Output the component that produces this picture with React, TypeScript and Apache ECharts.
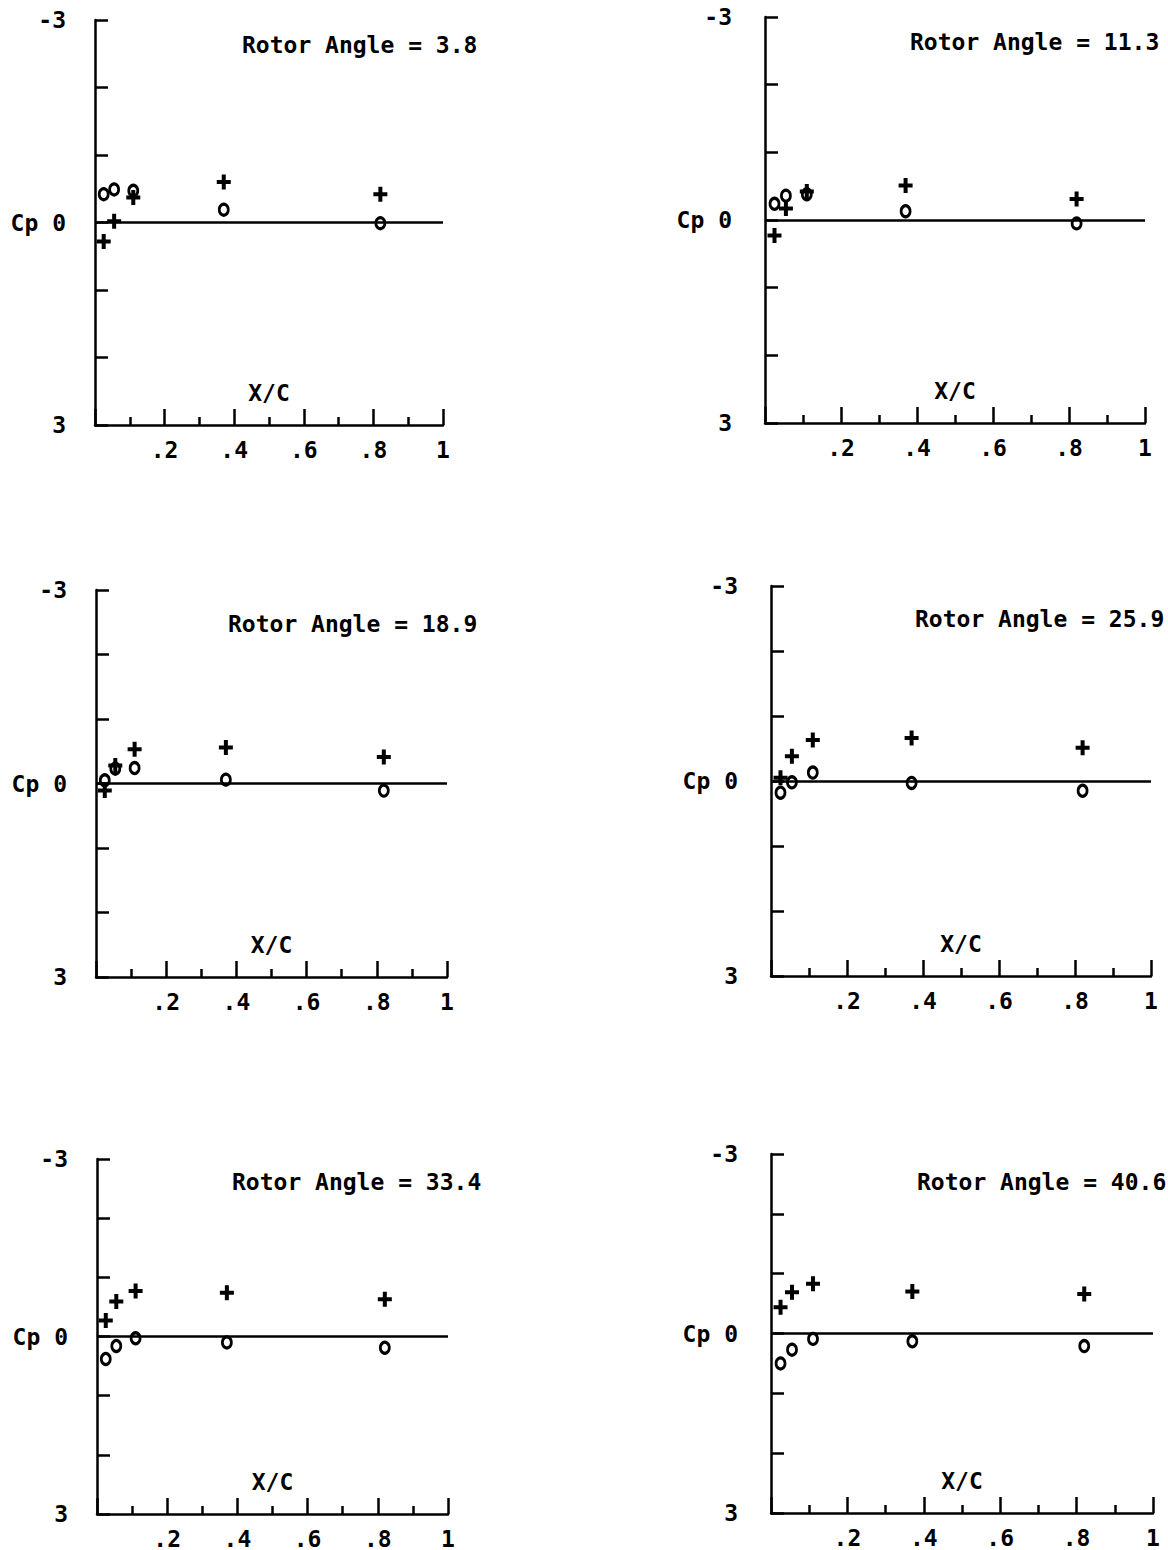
import React, { useEffect, useRef } from "react";
import * as echarts from "echarts";

// ---- data ----
const xPositions = [0.025, 0.055, 0.11, 0.37, 0.82];
const rotorAngles = ["3.8", "11.3", "18.9", "25.9", "33.4", "40.6"];
const plusCp1 = [0.28, -0.02, -0.37, -0.6, -0.42];
const circleCp1 = [-0.42, -0.49, -0.47, -0.19, 0.01];
const plusCp2 = [0.23, -0.17, -0.42, -0.51, -0.31];
const circleCp2 = [-0.24, -0.36, -0.38, -0.13, 0.05];
const plusCp3 = [0.11, -0.28, -0.53, -0.56, -0.41];
const circleCp3 = [-0.05, -0.23, -0.24, -0.06, 0.11];
const plusCp4 = [-0.05, -0.38, -0.63, -0.66, -0.51];
const circleCp4 = [0.18, 0.02, -0.13, 0.03, 0.15];
const plusCp5 = [-0.27, -0.59, -0.77, -0.74, -0.63];
const circleCp5 = [0.38, 0.16, 0.03, 0.1, 0.19];
const plusCp6 = [-0.44, -0.69, -0.83, -0.7, -0.66];
const circleCp6 = [0.5, 0.27, 0.09, 0.13, 0.21];
const plusSets = [plusCp1, plusCp2, plusCp3, plusCp4, plusCp5, plusCp6];
const circleSets = [circleCp1, circleCp2, circleCp3, circleCp4, circleCp5, circleCp6];
const yTickLabels: Record<string, string> = { "-3": "-3", "0": "Cp 0", "3": "3" };
const xTickLabels = ["", ".2", ".4", ".6", ".8", "1"];

// ---- layout ----
const grids = [
  { left: 95, top: 20, width: 348, height: 405 },
  { left: 765, top: 17, width: 380, height: 406 },
  { left: 96, top: 590, width: 351, height: 387 },
  { left: 771, top: 586, width: 380, height: 390 },
  { left: 97, top: 1159, width: 351, height: 359 },
  { left: 771, top: 1154, width: 382, height: 359 },
];
const titlePos = [
  { x: 242, y: 46 },
  { x: 910, y: 43 },
  { x: 228, y: 625 },
  { x: 915, y: 620 },
  { x: 232, y: 1183 },
  { x: 917, y: 1183 },
];
const yLabelMargins = [29, 33, 29, 33, 29, 33];

const FONT = "DejaVu Sans Mono";
const FS = 23;
const plusSymbol = "path://M5,0H9V5.5H14V9.5H9V15H5V9.5H0V5.5H5Z";

const textStyle = { color: "#000", fontFamily: FONT, fontSize: FS, fontWeight: "bold" as const };

export default function App() {
  const ref = useRef<HTMLDivElement>(null);
  useEffect(() => {
    if (!ref.current) return;
    const chart = echarts.init(ref.current, undefined, { renderer: "svg" });
    const lineStyle = { color: "#000", width: 2.5 };
    const option: any = {
      animation: false,
      backgroundColor: "#fff",
      grid: grids.map((g) => ({ ...g, containLabel: false })),
      title: rotorAngles.map((a, i) => ({
        text: "Rotor Angle = " + a,
        left: titlePos[i].x,
        top: titlePos[i].y - 13,
        padding: 0,
        textStyle: { ...textStyle },
      })),
      xAxis: grids.map((_, i) => ({
        gridIndex: i,
        type: "value",
        min: 0,
        max: 1,
        interval: 0.2,
        axisLine: { show: true, onZero: false, lineStyle },
        axisTick: { show: true, inside: true, length: 16, lineStyle },
        minorTick: { show: true, splitNumber: 2, length: 8, lineStyle },
        splitLine: { show: false },
        minorSplitLine: { show: false },
        axisLabel: {
          ...textStyle,
          margin: 13,
          showMinLabel: true,
          showMaxLabel: true,
          formatter: (v: number) => xTickLabels[Math.round(v * 5)] ?? "",
        },
        name: "X/C",
        nameLocation: "middle",
        nameGap: -44,
        nameTextStyle: { ...textStyle },
      })),
      yAxis: grids.map((_, i) => ({
        gridIndex: i,
        type: "value",
        min: -3,
        max: 3,
        interval: 1,
        inverse: true,
        axisLine: { show: true, onZero: false, lineStyle },
        axisTick: { show: true, inside: true, length: 13, lineStyle },
        splitLine: { show: false },
        axisLabel: {
          ...textStyle,
          margin: yLabelMargins[i],
          showMinLabel: true,
          showMaxLabel: true,
          formatter: (v: number) => yTickLabels[String(Math.round(v))] ?? "",
        },
      })),
      series: grids.flatMap((_, i) => [
        {
          type: "scatter",
          xAxisIndex: i,
          yAxisIndex: i,
          symbol: plusSymbol,
          symbolSize: [14, 15],
          itemStyle: { color: "#000", opacity: 1 },
          data: xPositions.map((x, k) => [x, plusSets[i][k]]),
          silent: true,
        },
        {
          type: "scatter",
          xAxisIndex: i,
          yAxisIndex: i,
          symbol: "circle",
          symbolSize: [9, 11],
          itemStyle: { color: "rgba(0,0,0,0)", borderColor: "#000", borderWidth: 3, opacity: 1 },
          data: xPositions.map((x, k) => [x, circleSets[i][k]]),
          silent: true,
          markLine: {
            silent: true,
            symbol: ["none", "none"],
            label: { show: false },
            lineStyle: { color: "#000", width: 2.5, type: "solid", opacity: 1 },
            data: [{ yAxis: 0 }],
          },
        },
      ]),
    };
    chart.setOption(option);
    return () => chart.dispose();
  }, []);
  return (
    <div
      ref={ref}
      style={{ position: "absolute", left: 0, top: 0, width: 1168, height: 1550, background: "#fff" }}
    />
  );
}
